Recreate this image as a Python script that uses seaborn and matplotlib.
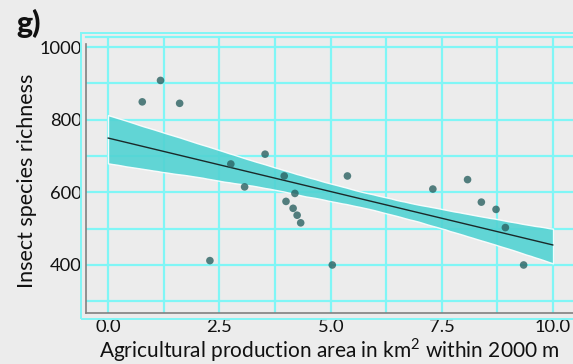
import numpy as np
import pandas as pd
import matplotlib
matplotlib.use("Agg")
import matplotlib.pyplot as plt
from matplotlib.patches import Rectangle
import seaborn as sns

# ---- data ----
area_km2 = [0.77, 1.18, 1.61, 2.29, 2.76, 3.07, 3.53, 3.96, 4.00, 4.20, 4.16,
            4.25, 4.33, 5.04, 5.38, 7.30, 8.08, 8.39, 8.72, 8.93, 9.34]
richness = [849, 908, 845, 412, 678, 615, 705, 645, 575, 597, 556,
            537, 516, 400, 645, 609, 635, 573, 553, 503, 400]
x_ticks = [0.0, 2.5, 5.0, 7.5, 10.0]
x_ticklabels = ["0.0", "2.5", "5.0", "7.5", "10.0"]
y_ticks = [400, 600, 800, 1000]
panel_label = "g)"
x_label = "Agricultural production area in km$^2$ within 2000 m"
y_label = "Insect species richness"

df = pd.DataFrame({"area": area_km2, "richness": richness})

sns.set_style("white")
plt.rcParams["font.family"] = ["Lato", "DejaVu Sans"]
plt.rcParams["mathtext.fontset"] = "custom"
plt.rcParams["mathtext.rm"] = "Lato"

BG = "#ececec"
CYAN = "#80f6f6"
GREY = "#808080"
TXT = "#111111"

W, H = 573, 364
fig = plt.figure(figsize=(W / 100, H / 100), dpi=100, facecolor=BG)

# axes in pixel coordinates
left_px, right_px, top_px, bottom_px = 86, 610, 37, 313
ax_w, ax_h = right_px - left_px, bottom_px - top_px
ax = fig.add_axes([left_px / W, (H - bottom_px) / H, ax_w / W, ax_h / H])
ax.set_facecolor(BG)

# regression over 0..10 (truncate=False uses current xlim)
ax.set_xlim(0, 10)
sns.regplot(data=df, x="area", y="richness", ax=ax, truncate=False,
            ci=68, n_boot=1000, seed=3,
            scatter_kws=dict(s=30, color="#2b6262", edgecolor="none", zorder=4),
            line_kws=dict(color="#1a2a2a", lw=1.0, zorder=3),
            color="#3fcfcf")
for coll in ax.collections:
    if coll.__class__.__name__ in ("FillBetweenPolyCollection", "PolyCollection"):
        coll.set_alpha(0.9)
        coll.set_facecolor("#52d3d3")

xmin = (left_px - 108) / 44.5
xmax = (right_px - 108) / 44.5
ax.set_xlim(xmin, xmax)
ax.set_ylim(1000 - (bottom_px - 47) / 0.3633, 1000 - (top_px - 47) / 0.3633)

# grid
ax.set_xticks(x_ticks)
ax.set_xticklabels(x_ticklabels)
ax.set_yticks(y_ticks)
ax.set_xticks([1.25, 3.75, 6.25, 8.75], minor=True)
ax.set_yticks([300, 500, 700, 900], minor=True)
ax.grid(True, which="both", color=CYAN, lw=1.6, zorder=0)
ax.set_axisbelow(True)
ax.tick_params(axis="both", which="minor", length=0)
ax.tick_params(axis="both", which="major", length=3, width=1, color=GREY,
               labelsize=13.2, labelcolor=TXT, pad=0)
ax.tick_params(axis="x", pad=1)

for s in ["top", "right"]:
    ax.spines[s].set_color(CYAN)
    ax.spines[s].set_linewidth(1.6)
ax.spines["left"].set_color(GREY)
ax.spines["bottom"].set_color(GREY)
ax.spines["left"].set_linewidth(1.2)
ax.spines["bottom"].set_linewidth(1.2)
ax.spines["left"].set_bounds(ax.get_ylim()[0], 1000 - (44 - 47) / 0.3633)

ax.set_xlabel(x_label, fontsize=15, color=TXT)
ax.xaxis.label.set_va("center")
ax.xaxis.set_label_coords((329 - left_px) / ax_w, (bottom_px - 350.5) / ax_h)
ax.set_ylabel(y_label, fontsize=15.5, color=TXT)
ax.yaxis.label.set_va("center")
ax.yaxis.set_label_coords((27 - left_px) / ax_w, (bottom_px - 181) / ax_h)

# outer cyan frame
fig.patches.append(Rectangle((81 / W, (H - 319) / H), (700 - 81) / W, (319 - 33) / H,
                             transform=fig.transFigure, fill=False,
                             edgecolor=CYAN, lw=1.4, zorder=0))

fig.text(16 / W, 1 - 23 / H, panel_label, fontsize=22, fontweight="black",
         va="center", ha="left", color=TXT)

fig.savefig("out.png", dpi=100, facecolor=BG)
